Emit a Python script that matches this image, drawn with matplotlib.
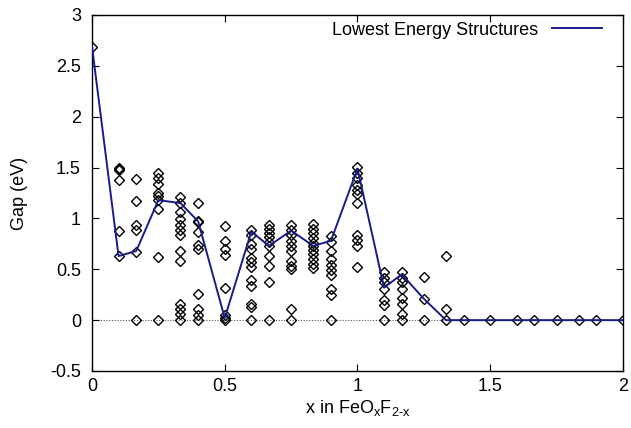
import matplotlib
matplotlib.use("Agg")
import matplotlib.pyplot as plt

plt.rcParams['font.family'] = ['Liberation Sans', 'DejaVu Sans']
plt.rcParams['mathtext.fontset'] = 'custom'
plt.rcParams['mathtext.rm'] = 'Liberation Sans'
plt.rcParams['mathtext.it'] = 'Liberation Sans'

# Composition values (x in FeOxF2-x) and the gaps of all computed structures
x_values = [0.0, 0.1, 1/6, 0.25, 1/3, 0.4, 0.5, 0.6, 2/3, 0.75, 5/6, 0.9,
            1.0, 1.1, 7/6, 1.25, 4/3, 1.4, 1.5, 1.6, 5/3, 1.75, 11/6, 1.9, 2.0]
gaps_all = [
    [2.69],
    [1.50, 1.49, 1.48, 1.38, 0.88, 0.63],
    [1.39, 1.175, 0.94, 0.89, 0.67, 0.0],
    [1.445, 1.40, 1.34, 1.25, 1.22, 1.18, 1.09, 0.62, 0.0],
    [1.21, 1.15, 1.06, 0.99, 0.94, 0.89, 0.84, 0.68, 0.58, 0.16, 0.11, 0.065, 0.0],
    [1.15, 0.97, 0.96, 0.87, 0.74, 0.70, 0.26, 0.11, 0.05, 0.0],
    [0.925, 0.78, 0.70, 0.64, 0.32, 0.05, 0.02, 0.0],
    [0.89, 0.84, 0.75, 0.70, 0.61, 0.57, 0.52, 0.39, 0.34, 0.16, 0.13, 0.0],
    [0.94, 0.90, 0.86, 0.82, 0.77, 0.73, 0.63, 0.53, 0.37, 0.0],
    [0.94, 0.89, 0.84, 0.78, 0.73, 0.68, 0.58, 0.53, 0.50, 0.107, 0.0],
    [0.95, 0.90, 0.86, 0.81, 0.76, 0.73, 0.69, 0.65, 0.60, 0.55, 0.51],
    [0.83, 0.77, 0.68, 0.60, 0.54, 0.49, 0.44, 0.31, 0.25, 0.0],
    [1.51, 1.45, 1.40, 1.33, 1.28, 1.24, 1.15, 0.84, 0.79, 0.73, 0.52],
    [0.47, 0.41, 0.37, 0.31, 0.20, 0.15, 0.0],
    [0.47, 0.41, 0.37, 0.31, 0.22, 0.16, 0.065, 0.0],
    [0.42, 0.21, 0.0],
    [0.63, 0.11, 0.0],
    [0.0], [0.0], [0.0], [0.0], [0.0], [0.0], [0.0], [0.0],
]
# Gap of the lowest energy structure for each composition
gaps_lowest = [2.69, 0.63, 0.68, 1.18, 1.15, 0.97, 0.02, 0.87, 0.73, 0.88, 0.73, 0.78,
               1.49, 0.32, 0.45, 0.21, 0.0, 0.0, 0.0, 0.0, 0.0, 0.0, 0.0, 0.0, 0.0]

xs, ys = [], []
for xv, g in zip(x_values, gaps_all):
    for gv in g:
        xs.append(xv)
        ys.append(gv)

FS = 13
fig = plt.figure(figsize=(6.31, 4.28), dpi=100)
ax = fig.add_axes([0.1458, 0.1332, 0.8415, 0.8318])

ax.axhline(0, color='#555555', lw=0.8, ls=(0, (1, 1.5)), zorder=1)
ax.plot(xs, ys, ls='none', marker='D', ms=5.3, mfc='none', mec='black', mew=1.0, zorder=2)
ax.plot(x_values, gaps_lowest, color='#1a1a8f', lw=1.4, zorder=3, label='Lowest Energy Structures')

ax.set_xlim(0, 2)
ax.set_ylim(-0.5, 3)
ax.set_xticks([0, 0.5, 1, 1.5, 2])
ax.set_xticklabels(['0', '0.5', '1', '1.5', '2'])
ax.set_yticks([-0.5, 0, 0.5, 1, 1.5, 2, 2.5, 3])
ax.set_yticklabels(['-0.5', '0', '0.5', '1', '1.5', '2', '2.5', '3'])
ax.tick_params(direction='in', top=True, right=True, length=5, width=0.8, labelsize=FS)
ax.tick_params(axis='y', pad=8)
ax.tick_params(axis='x', pad=5)
for s in ax.spines.values():
    s.set_linewidth(1.0)

ax.set_xlabel('x in FeO$_\\mathrm{x}$F$_\\mathrm{2\u2010x}$', fontsize=FS, labelpad=2)
ax.set_ylabel('Gap (eV)', fontsize=FS, labelpad=16)

ax.legend(loc='upper right', bbox_to_anchor=(0.983, 1.014), frameon=False, markerfirst=False,
          handlelength=2.8, fontsize=FS, borderaxespad=0.25, borderpad=0.4, handletextpad=0.75)

fig.savefig('out.png', dpi=100)
